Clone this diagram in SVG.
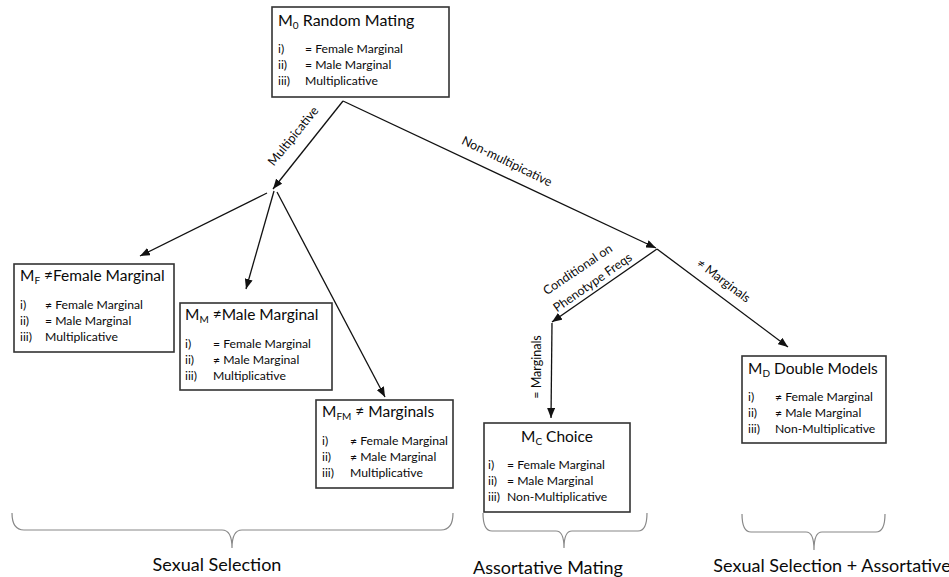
<svg xmlns="http://www.w3.org/2000/svg" width="949" height="577" viewBox="0 0 949 577">
<defs>
<style>
text{font-family:Lato,"Liberation Sans",sans-serif;fill:#0a0a0a}
.box{fill:#fff;stroke:#333;stroke-width:1.6}
.ttl{font-size:15.5px}
.it{font-size:12.2px}
.lbl{font-size:12.5px}
.cap{font-size:18px}
.con{fill:none;stroke:#111;stroke-width:1.3}
.brace{fill:none;stroke:#888;stroke-width:1.2}
.sub{font-size:10px}
</style>
<marker id="ah" viewBox="0 0 10 8" refX="10" refY="4" markerWidth="10" markerHeight="8" markerUnits="userSpaceOnUse" orient="auto">
<path d="M0,0 L10,4 L0,8 Z" fill="#111"/>
</marker>
</defs>
<rect width="949" height="577" fill="#fff"/>

<g id="connectors">
<path class="con" d="M343,101 L273,189" marker-end="url(#ah)"/>
<path class="con" d="M343,101 L656,248" marker-end="url(#ah)"/>
<path class="con" d="M267,193 L140,256" marker-end="url(#ah)"/>
<path class="con" d="M274,191 L246,289" marker-end="url(#ah)"/>
<path class="con" d="M277,192 L385,397" marker-end="url(#ah)"/>
<path class="con" d="M657,249 L552,322" marker-end="url(#ah)"/>
<path class="con" d="M657,249 L788,347" marker-end="url(#ah)"/>
<path class="con" d="M552,323 L551,418" marker-end="url(#ah)"/>
<text class="lbl" transform="translate(298,140) rotate(-51)" text-anchor="middle" dy="-2">Multipicative</text>
<text class="lbl" transform="translate(505,165) rotate(26)" text-anchor="middle">Non-multipicative</text>
<text class="lbl" transform="translate(580,273) rotate(-34)" text-anchor="middle">Conditional on</text>
<text class="lbl" transform="translate(595,286) rotate(-35)" text-anchor="middle">Phenotype Freqs</text>
<text class="lbl" transform="translate(721,284) rotate(37)" text-anchor="middle">≠ Marginals</text>
<text class="lbl" transform="translate(541,367) rotate(-90)" text-anchor="middle">= Marginals</text>
</g>

<g id="M0">
<rect class="box" x="272" y="7" width="177" height="90"/>
<text class="ttl" x="278" y="26" style="font-size:16px">M<tspan class="sub" dy="3">0</tspan><tspan dy="-3"> Random Mating</tspan></text>
<text class="it" x="278" y="53">i)</text><text class="it" x="305" y="53">= Female Marginal</text>
<text class="it" x="278" y="69">ii)</text><text class="it" x="305" y="69">= Male Marginal</text>
<text class="it" x="278" y="85">iii)</text><text class="it" x="305" y="85">Multiplicative</text>
</g>

<g id="MF">
<rect class="box" x="14" y="264" width="160" height="88"/>
<text class="ttl" x="20" y="281">M<tspan class="sub" dy="3">F</tspan><tspan dy="-3"> ≠Female Marginal</tspan></text>
<text class="it" x="20" y="309">i)</text><text class="it" x="45" y="309">≠ Female Marginal</text>
<text class="it" x="20" y="325">ii)</text><text class="it" x="45" y="325">= Male Marginal</text>
<text class="it" x="20" y="341">iii)</text><text class="it" x="45" y="341">Multiplicative</text>
</g>

<g id="MM">
<rect class="box" x="180" y="303" width="152" height="87"/>
<text class="ttl" x="185" y="320">M<tspan class="sub" dy="3">M</tspan><tspan dy="-3"> ≠Male Marginal</tspan></text>
<text class="it" x="185" y="348">i)</text><text class="it" x="213" y="348">= Female Marginal</text>
<text class="it" x="185" y="364">ii)</text><text class="it" x="213" y="364">≠ Male Marginal</text>
<text class="it" x="185" y="380">iii)</text><text class="it" x="213" y="380">Multiplicative</text>
</g>

<g id="MFM">
<rect class="box" x="316" y="400" width="137" height="88"/>
<text class="ttl" x="322" y="417">M<tspan class="sub" dy="3">FM</tspan><tspan dy="-3"> ≠ Marginals</tspan></text>
<text class="it" x="322" y="445">i)</text><text class="it" x="350" y="445">≠ Female Marginal</text>
<text class="it" x="322" y="461">ii)</text><text class="it" x="350" y="461">≠ Male Marginal</text>
<text class="it" x="322" y="477">iii)</text><text class="it" x="350" y="477">Multiplicative</text>
</g>

<g id="MC">
<rect class="box" x="484" y="423" width="146" height="89"/>
<text class="ttl" x="557" y="442" text-anchor="middle">M<tspan class="sub" dy="3">C</tspan><tspan dy="-3"> Choice</tspan></text>
<text class="it" x="488" y="469">i)</text><text class="it" x="507" y="469">= Female Marginal</text>
<text class="it" x="488" y="485">ii)</text><text class="it" x="507" y="485">= Male Marginal</text>
<text class="it" x="488" y="501">iii)</text><text class="it" x="507" y="501">Non-Multiplicative</text>
</g>

<g id="MD">
<rect class="box" x="742" y="356" width="144" height="87"/>
<text class="ttl" x="748" y="374">M<tspan class="sub" dy="3">D</tspan><tspan dy="-3"> Double Models</tspan></text>
<text class="it" x="748" y="401">i)</text><text class="it" x="775" y="401">≠ Female Marginal</text>
<text class="it" x="748" y="417">ii)</text><text class="it" x="775" y="417">≠ Male Marginal</text>
<text class="it" x="748" y="433">iii)</text><text class="it" x="775" y="433">Non-Multiplicative</text>
</g>

<g id="braces">
<path class="brace" d="M12,513 Q12,530 24,530 L222,530 Q232,530 232,548 Q232,530 242,530 L441,530 Q453,530 453,513"/>
<path class="brace" d="M483,513 Q483,531 492,531 L556,531 Q564,531 564,548 Q564,531 572,531 L638,531 Q647,531 647,513"/>
<path class="brace" d="M742,514 Q742,532 751,532 L806,532 Q814,532 814,550 Q814,532 822,532 L876,532 Q885,532 885,514"/>
<text class="cap" x="217" y="571" text-anchor="middle">Sexual Selection</text>
<text class="cap" x="548" y="574" text-anchor="middle">Assortative Mating</text>
<text class="cap" x="832" y="572" text-anchor="middle">Sexual Selection + Assortative</text>
</g>
</svg>
